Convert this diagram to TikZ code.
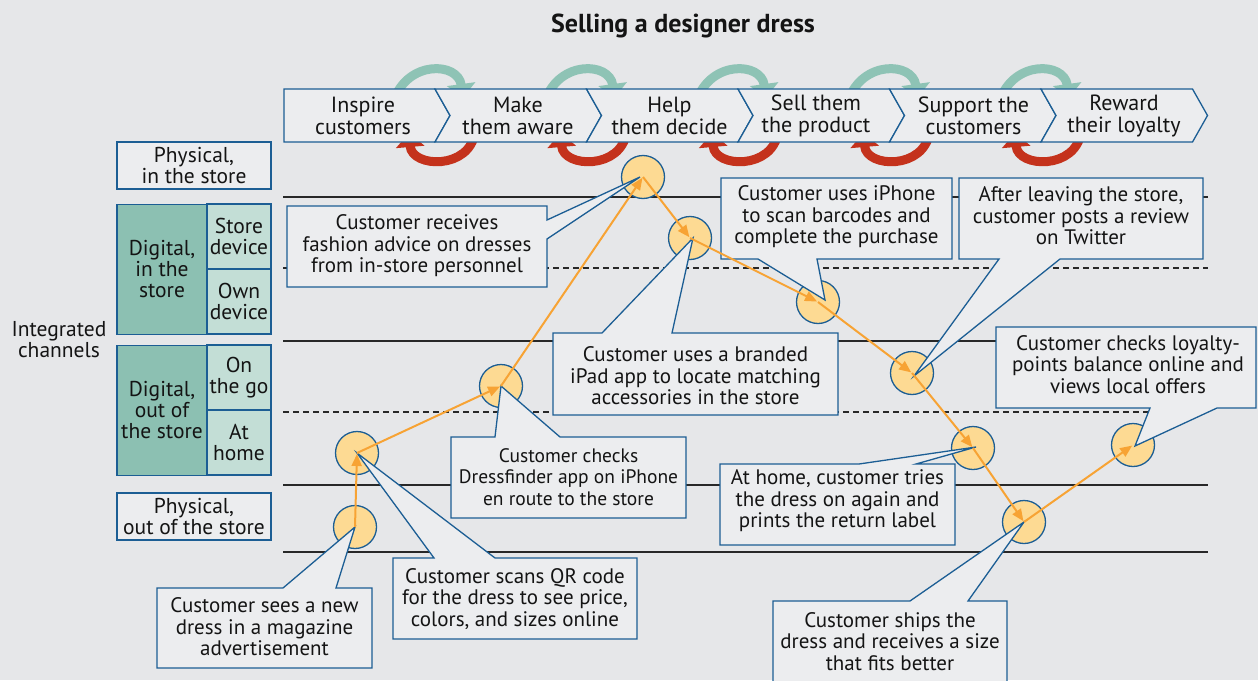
\documentclass[tikz,border=0pt]{standalone}
\usepackage{fontspec}
\setmainfont{PT Sans}
\usetikzlibrary{arrows.meta,calc}
\definecolor{bg}{RGB}{230,231,233}
\definecolor{boxfill}{RGB}{236,237,239}
\definecolor{bline}{RGB}{28,94,148}
\definecolor{tealdark}{RGB}{140,192,178}
\definecolor{teallight}{RGB}{195,222,214}
\definecolor{garc}{RGB}{142,195,181}
\definecolor{rarc}{RGB}{196,50,28}
\definecolor{flowc}{RGB}{247,163,52}
\definecolor{tpfill}{RGB}{253,218,147}
\definecolor{lanec}{RGB}{40,40,40}
\definecolor{txtc}{RGB}{20,20,20}
\begin{document}
\begin{tikzpicture}[x=1pt,y=-1pt,
  txt/.style={font=\fontsize{21}{21.5}\selectfont, align=center, text=txtc, inner sep=0pt},
  chevtxt/.style={font=\fontsize{22}{22}\selectfont, align=center, text=txtc, inner sep=0pt},
  lbltxt/.style={font=\fontsize{21.5}{21}\selectfont, align=center, text=txtc, inner sep=0pt},
  callout/.style={draw=bline, fill=boxfill, line width=1.3pt, line join=miter},
  chev/.style={draw=bline, fill=boxfill, line width=1.3pt},
  lane/.style={draw=lanec, line width=1.2pt},
  dlane/.style={draw=lanec, line width=1.2pt, dash pattern=on 6pt off 4pt},
  tp/.style={circle, draw=bline, fill=tpfill, line width=1.3pt, minimum size=43pt, inner sep=0pt},
  flow/.style={draw=flowc, line width=2pt, -{Triangle[length=12pt,width=10pt]}, shorten >=1pt},
  garrow/.style={draw=garc, line width=9pt, -{Triangle[length=14pt,width=28pt]}},
  rarrow/.style={draw=rarc, line width=9pt, -{Triangle[length=14pt,width=28pt]}},
  lbl/.style={draw=bline, line width=1.3pt, inner sep=0pt, lbltxt}
]
\useasboundingbox (0,0) rectangle (1258,680);
\fill[bg] (0,0) rectangle (1258,680);
\clip (0,0) rectangle (1258,680);

% title
\node[font=\fontsize{26}{30}\selectfont\bfseries, text=txtc] (title) at (683,26) {Selling a designer dress};

% cycle arrows (behind the chevrons)
\foreach \d in {0,151.5,303,454.5,606} {
  \draw[garrow] (394+\d,100) .. controls (408+\d,60) and (458+\d,62) .. (463+\d,98);
  \draw[rarrow] (475+\d,132) .. controls (470+\d,170) and (412+\d,168) .. (409+\d,133);
}

% chevrons
\draw[chev] (284,89) -- (435,89) -- (450,115.5) -- (435,142) -- (284,142) -- cycle;
\foreach \l/\r in {435/586.5,586.5/738,738/889.5,889.5/1041,1041/1192.5}
  \draw[chev] (\l,89) -- (\r,89) -- (\r+15,115.5) -- (\r,142) -- (\l,142) -- (\l+15,115.5) -- cycle;
\node[chevtxt] (s1) at (363,115.5) {Inspire\\customers};
\node[chevtxt] (s2) at (518,115.5) {Make\\them aware};
\node[chevtxt] (s3) at (669.5,115.5) {Help\\them decide};
\node[chevtxt] (s4) at (816,115.5) {Sell them\\the product};
\node[chevtxt] (s5) at (973.5,115.5) {Support the\\customers};
\node[chevtxt] (s6) at (1124,115.5) {Reward\\their loyalty};

% lanes
\draw[lane] (283,197) -- (1208,197);
\draw[dlane] (283,268) -- (1208,268);
\draw[lane] (283,341) -- (1208,341);
\draw[dlane] (283,412) -- (1208,412);
\draw[lane] (283,485) -- (1208,485);
\draw[lane] (283,552) -- (1208,552);

% channel labels
\node[lbltxt] (ic) at (59,340) {Integrated\\channels};
\node[lbl, fill=boxfill, minimum width=154pt, minimum height=47pt] (pin) at (194,165.5) {Physical,\\in the store};
\node[lbl, fill=tealdark, minimum width=90pt, minimum height=130pt] (din) at (162,269.5) {Digital,\\in the\\store};
\node[lbl, fill=teallight, minimum width=64pt, minimum height=65pt] (sd) at (239,236.5) {Store\\device};
\node[lbl, fill=teallight, minimum width=64pt, minimum height=65pt] (od) at (239,301.5) {Own\\device};
\node[lbl, fill=tealdark, minimum width=90pt, minimum height=130pt] (dout) at (162,410.5) {Digital,\\out of\\the store};
\node[lbl, fill=teallight, minimum width=64pt, minimum height=65pt] (og) at (239,377.5) {On\\the go};
\node[lbl, fill=teallight, minimum width=64pt, minimum height=65pt] (ah) at (239,442.5) {At\\home};
\node[lbl, fill=boxfill, minimum width=154pt, minimum height=47pt] (pout) at (194,516.5) {Physical,\\out of the store};

% touchpoints
\node[tp] (c1) at (355,527) {};
\node[tp] (c2) at (357,453) {};
\node[tp] (c3) at (501,386) {};
\node[tp] (c4) at (643,177) {};
\node[tp] (c5) at (690,238) {};
\node[tp] (c6) at (818,302) {};
\node[tp] (c7) at (912,373) {};
\node[tp] (c8) at (1133,445) {};
\node[tp] (c9) at (973,448) {};
\node[tp] (c10) at (1024,522) {};

% callouts
\draw[callout] (157,588) -- (283,588) -- (c1.center) -- (336,588) -- (372,588) -- (372,668) -- (157,668) -- cycle;
\node[txt] (t1) at (264.5,627) {Customer sees a new\\dress in a magazine\\advertisement};

\draw[callout] (393,558) -- (434,558) -- (c2.center) -- (495,558) -- (637,558) -- (637,639) -- (393,639) -- cycle;
\node[txt] (t2) at (515,599) {Customer scans QR code\\for the dress to see price,\\colors, and sizes online};

\draw[callout] (451,437) -- (495,437) -- (c3.center) -- (560,437) -- (686,437) -- (686,518) -- (451,518) -- cycle;
\node[txt, font=\fontsize{19.5}{21.5}\selectfont] (t3) at (568.5,477) {Customer checks\\Dressfinder app on iPhone\\en route to the store};

\draw[callout] (287,206) -- (547,206) -- (547,220) -- ($(c4.center)+(-3,0)$) -- (547,239) -- (547,287) -- (287,287) -- cycle;
\node[txt] (t4) at (417,246) {Customer receives\\fashion advice on dresses\\from in-store personnel};

\draw[callout] (553,333) -- (602,333) -- ($(c5.center)+(3,0)$) -- (672,333) -- (838,333) -- (838,415) -- (553,415) -- cycle;
\node[txt] (t5) at (695.5,376) {Customer uses a branded\\iPad app to locate matching\\accessories in the store};

\draw[callout] (721,178) -- (952,178) -- (952,259) -- (817,259) -- ($(c6.center)+(7,-2)$) -- (758,259) -- (721,259) -- cycle;
\node[txt] (t6) at (836.5,217) {Customer uses iPhone\\to scan barcodes and\\complete the purchase};

\draw[callout] (959,178) -- (1203,178) -- (1203,259) -- (1060,259) -- ($(c7.center)+(2,3)$) -- (999,259) -- (959,259) -- cycle;
\node[txt] (t7) at (1081,216) {After leaving the store,\\customer posts a review\\on Twitter};

\draw[callout] (996,327) -- (1256,327) -- (1256,408) -- (1217,408) -- ($(c8.center)+(2,1)$) -- (1150,408) -- (996,408) -- cycle;
\node[txt] (t8) at (1128,364.5) {Customer checks loyalty-\\points balance online and\\views local offers};

\draw[callout] (720,464) -- (859,464) -- ($(c9.center)+(3,-1)$) -- (916,464) -- (955,464) -- (955,545) -- (720,545) -- cycle;
\node[txt] (t9) at (837.5,501) {At home, customer tries\\the dress on again and\\prints the return label};

\draw[callout] (773,601) -- (910,601) -- (c10.center) -- (968,601) -- (1007,601) -- (1007,700) -- (773,700) -- cycle;
\node[txt] (t10) at (890,641.5) {Customer ships the\\dress and receives a size\\that fits better};

% customer journey
\draw[flow] (c1.center) -- (c2.center);
\draw[flow] (c2.center) -- (c3.center);
\draw[flow] (c3.center) -- (c4.center);
\draw[flow] (c4.center) -- (c5.center);
\draw[flow] (c5.center) -- (c6.center);
\draw[flow] (c6.center) -- (c7.center);
\draw[flow] (c7.center) -- (c9.center);
\draw[flow] (c9.center) -- (c10.center);
\draw[flow] (c10.center) -- (c8.center);
\end{tikzpicture}
\end{document}
